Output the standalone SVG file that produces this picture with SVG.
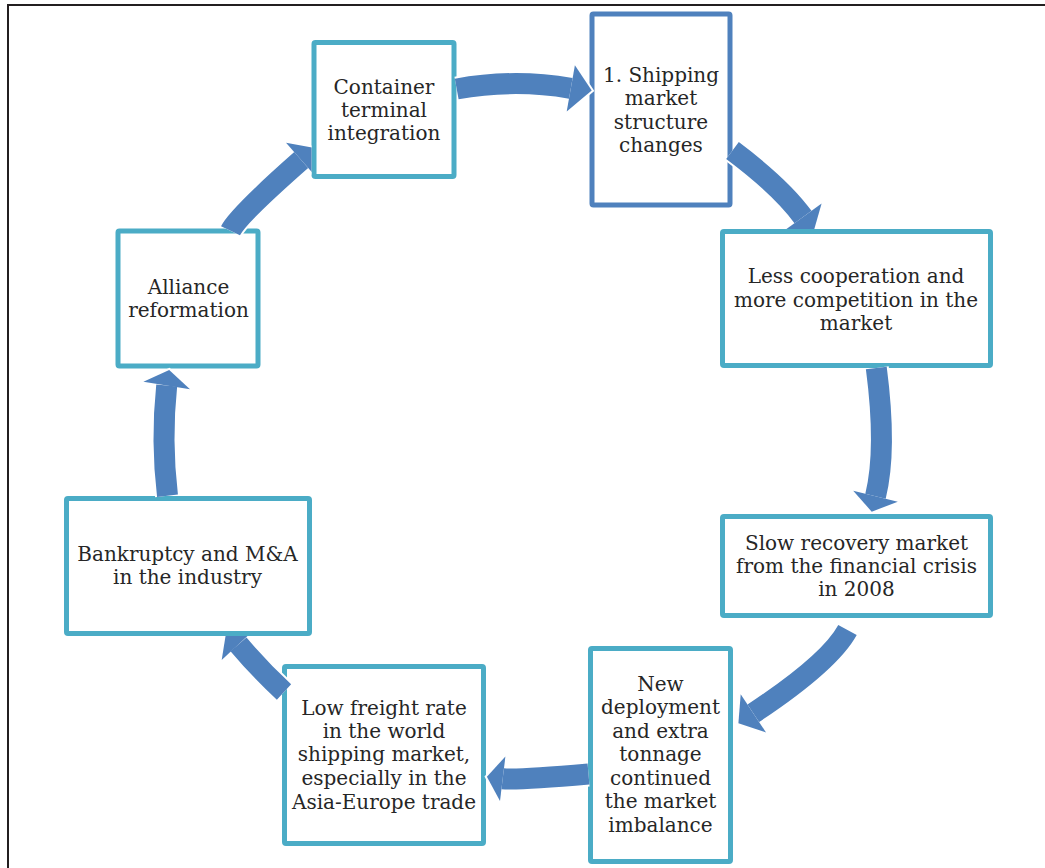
<svg xmlns="http://www.w3.org/2000/svg" width="1045" height="868" viewBox="0 0 1045 868">
<style>
.box{fill:#fff;stroke:#4BACC6;stroke-width:5}
.box1{fill:#fff;stroke:#4F81BD;stroke-width:5}
.t{font-family:"DejaVu Serif","Liberation Serif",serif;font-size:20px;fill:#262626;text-anchor:middle}
.bw{fill:none;stroke:#fff;stroke-width:25}
.hw{fill:#fff;stroke:#fff;stroke-width:4;stroke-linejoin:miter}
.bb{fill:none;stroke:#4F81BD;stroke-width:21}
.hb{fill:#4F81BD}
</style>
<defs>
<mask id="mLess" maskUnits="userSpaceOnUse" x="0" y="0" width="1045" height="868">
<rect x="0" y="0" width="1045" height="868" fill="#fff"/>
<rect x="720" y="229" width="273" height="139" fill="#000"/>
</mask>
<mask id="mBank" maskUnits="userSpaceOnUse" x="0" y="0" width="1045" height="868">
<rect x="0" y="0" width="1045" height="868" fill="#fff"/>
<rect x="64" y="496" width="248" height="140" fill="#000"/>
</mask>
<mask id="mCont" maskUnits="userSpaceOnUse" x="0" y="0" width="1045" height="868">
<rect x="0" y="0" width="1045" height="868" fill="#fff"/>
<rect x="311.5" y="40" width="145" height="139" fill="#000"/>
</mask>
</defs>
<rect x="0" y="0" width="1045" height="868" fill="#fff"/>
<rect x="8" y="5" width="1100" height="900" fill="none" stroke="#231F20" stroke-width="2"/>

<g id="n1">
<rect class="box1" x="592" y="14" width="138" height="191" rx="1.5"/>
<text class="t" x="661" y="82">1. Shipping</text>
<text class="t" x="661" y="105">market</text>
<text class="t" x="661" y="128.5">structure</text>
<text class="t" x="661" y="152">changes</text>
</g>
<g id="n2">
<rect class="box" x="722.5" y="231.5" width="268" height="134" rx="1.5"/>
<text class="t" x="856" y="283">Less cooperation and</text>
<text class="t" x="856" y="306.5">more competition in the</text>
<text class="t" x="856" y="330">market</text>
</g>
<g id="n3">
<rect class="box" x="722.5" y="516.5" width="268" height="99" rx="1.5"/>
<text class="t" x="856.5" y="549.5">Slow recovery market</text>
<text class="t" x="856.5" y="572.5">from the financial crisis</text>
<text class="t" x="856.5" y="596">in 2008</text>
</g>
<g id="n4">
<rect class="box" x="590.5" y="648.5" width="140" height="213" rx="1.5"/>
<text class="t" x="660.5" y="691">New</text>
<text class="t" x="660.5" y="714">deployment</text>
<text class="t" x="660.5" y="737.5">and extra</text>
<text class="t" x="660.5" y="761">tonnage</text>
<text class="t" x="660.5" y="784.5">continued</text>
<text class="t" x="660.5" y="808">the market</text>
<text class="t" x="660.5" y="831.5">imbalance</text>
</g>
<g id="n5">
<rect class="box" x="284.5" y="666.5" width="199" height="177" rx="1.5"/>
<text class="t" x="384" y="714.5">Low freight rate</text>
<text class="t" x="384" y="738">in the world</text>
<text class="t" x="384" y="761">shipping market,</text>
<text class="t" x="384" y="785">especially in the</text>
<text class="t" x="384" y="808.5">Asia-Europe trade</text>
</g>
<g id="n6">
<rect class="box" x="66.5" y="498.5" width="243" height="135" rx="1.5"/>
<text class="t" x="187.5" y="561">Bankruptcy and M&amp;A</text>
<text class="t" x="187.5" y="584">in the industry</text>
</g>
<g id="n7">
<rect class="box" x="118" y="231" width="140" height="135" rx="1.5"/>
<text class="t" x="188.5" y="293.5">Alliance</text>
<text class="t" x="188.5" y="316.5">reformation</text>
</g>
<g id="n8">
<rect class="box" x="314" y="42.5" width="140" height="134" rx="1.5"/>
<text class="t" x="384" y="94">Container</text>
<text class="t" x="384" y="117">terminal</text>
<text class="t" x="384" y="140">integration</text>
</g>

<g id="connectors">
<g id="a1">
<path class="bw" d="M456.7,89 Q514,78.5 570.8,88.3"/>
<polygon class="hw" points="574.9,65.2 591.7,90.5 566.7,111.4"/>
<path class="bb" d="M456.7,89 Q514,78.5 570.8,88.3"/>
<polygon class="hb" points="574.9,65.2 591.7,90.5 566.7,111.4"/>
</g>
<g id="a2" mask="url(#mLess)">
<path class="bw" d="M732.5,150.5 Q781.3,187.1 803,217"/>
<polygon class="hw" points="821.6,203.5 813.6,231.6 784.4,230.5"/>
<path class="bb" d="M732.5,150.5 Q781.3,187.1 803,217"/>
<polygon class="hb" points="821.6,203.5 813.6,231.6 784.4,230.5"/>
</g>
<g id="a3">
<path class="bw" d="M876.3,368 Q887,449.6 875.5,496.2"/>
<polygon class="hw" points="897.8,501.7 871.7,511.7 853.2,490.7"/>
<path class="bb" d="M876.3,368 Q887,449.6 875.5,496.2"/>
<polygon class="hb" points="897.8,501.7 871.7,511.7 853.2,490.7"/>
</g>
<g id="a4">
<path class="bw" d="M847.5,630 Q829.7,662.7 753.3,713.3"/>
<polygon class="hw" points="766,732.4 738.4,723.2 740.7,694.2"/>
<path class="bb" d="M847.5,630 Q829.7,662.7 753.3,713.3"/>
<polygon class="hb" points="766,732.4 738.4,723.2 740.7,694.2"/>
</g>
<g id="a5">
<path class="bw" d="M588.5,774 Q516.1,780.3 502.7,778.7"/>
<polygon class="hw" points="500,801 486.9,776.8 505.4,756.4"/>
<path class="bb" d="M588.5,774 Q516.1,780.3 502.7,778.7"/>
<polygon class="hb" points="500,801 486.9,776.8 505.4,756.4"/>
</g>
<g id="a6" mask="url(#mBank)">
<path class="bw" d="M284,692 Q259.8,669.6 238.5,644.4"/>
<polygon class="hw" points="221.7,660 226.3,631.3 255.3,628.8"/>
<path class="bb" d="M284,692 Q259.8,669.6 238.5,644.4"/>
<polygon class="hb" points="221.7,660 226.3,631.3 255.3,628.8"/>
</g>
<g id="a7">
<path class="bw" d="M167.5,495.8 Q160.9,440.6 166.7,385.5"/>
<polygon class="hw" points="143.4,381.7 169.2,370 190,389.3"/>
<path class="bb" d="M167.5,495.8 Q160.9,440.6 166.7,385.5"/>
<polygon class="hb" points="143.4,381.7 169.2,370 190,389.3"/>
</g>
<g id="a8" mask="url(#mCont)">
<path class="bw" d="M230.5,230.8 Q237.6,216 301.2,160"/>
<polygon class="hw" points="286,142.7 314.7,148.1 316.4,177.3"/>
<path class="bb" d="M230.5,230.8 Q237.6,216 301.2,160"/>
<polygon class="hb" points="286,142.7 314.7,148.1 316.4,177.3"/>
</g>
</g>
</svg>
